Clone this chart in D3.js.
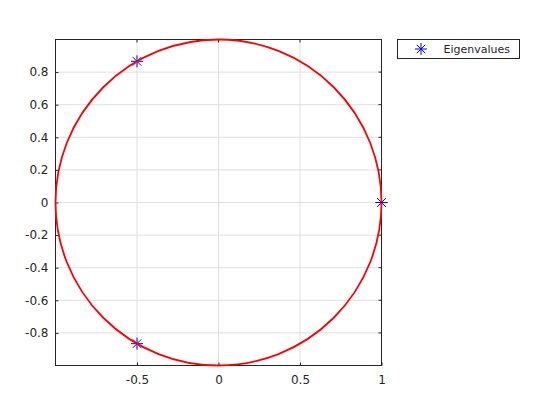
<!DOCTYPE html>
<html>
<head>
<meta charset="utf-8">
<script src="https://cdn.jsdelivr.net/npm/d3@7"></script>
<style>
  body { margin: 0; background: #fff; }
  text { font-family: "DejaVu Sans", sans-serif; fill: #262626; }
</style>
</head>
<body>
<div id="chart"></div>
<script>
// eigenvalues (real, imaginary); 1 appears twice
let eigRe = [1, 1, -0.5, -0.5];
let eigIm = [0, 0, 0.866, -0.866];
let xTicks = [-0.5, 0, 0.5, 1];
let yTicks = [-0.8, -0.6, -0.4, -0.2, 0, 0.2, 0.4, 0.6, 0.8];
let legendLabels = ["Eigenvalues"];

let svg = d3.select("#chart")
            .append("svg")
            .attr("width", 560)
            .attr("height", 420);

let plotLeft = 55.5, plotTop = 39.5, size = 326;

let x = d3.scaleLinear().domain([-1, 1]).range([plotLeft, plotLeft + size]);
let y = d3.scaleLinear().domain([-1, 1]).range([plotTop + size, plotTop]);
let fmt = d => String(d);

// grid
svg.selectAll(".gx").data(xTicks).enter().append("line")
    .attr("x1", d => x(d)).attr("x2", d => x(d))
    .attr("y1", plotTop).attr("y2", plotTop + size)
    .style("stroke", "#dfdfdf");
svg.selectAll(".gy").data(yTicks).enter().append("line")
    .attr("y1", d => y(d)).attr("y2", d => y(d))
    .attr("x1", plotLeft).attr("x2", plotLeft + size)
    .style("stroke", "#dfdfdf");

// axes with inward ticks
let xAxis = svg.append("g")
    .attr("transform", "translate(0," + (plotTop + size) + ")")
    .call(d3.axisBottom(x).tickValues(xTicks).tickSize(-3).tickPadding(9.5).tickFormat(fmt));
let yAxis = svg.append("g")
    .attr("transform", "translate(" + plotLeft + ",0)")
    .call(d3.axisLeft(y).tickValues(yTicks).tickSize(-3).tickPadding(7).tickFormat(fmt));
[xAxis, yAxis].forEach(a => {
    a.select(".domain").remove();
    a.selectAll("line").style("stroke", "#262626");
    a.selectAll("text").style("font-family", "DejaVu Sans, sans-serif").style("font-size", "12px").style("fill", "#262626");
});
// top and right ticks
svg.selectAll(".tt").data(xTicks).enter().append("line")
    .attr("x1", d => x(d)).attr("x2", d => x(d))
    .attr("y1", plotTop).attr("y2", plotTop + 3).style("stroke", "#262626");
svg.selectAll(".tr").data(yTicks).enter().append("line")
    .attr("y1", d => y(d)).attr("y2", d => y(d))
    .attr("x1", plotLeft + size).attr("x2", plotLeft + size - 3).style("stroke", "#262626");

svg.append("rect")
    .attr("x", plotLeft).attr("y", plotTop).attr("width", size).attr("height", size)
    .style("fill", "none").style("stroke", "#262626");

function star(g, cx, cy, r) {
    let s = g.append("g").attr("transform", "translate(" + cx + "," + cy + ")")
        .style("stroke", "#0000ff").style("stroke-width", 1);
    let d = r * Math.SQRT1_2;
    s.append("line").attr("x1", -r).attr("x2", r).attr("y1", 0).attr("y2", 0);
    s.append("line").attr("x1", 0).attr("x2", 0).attr("y1", -r).attr("y2", r);
    s.append("line").attr("x1", -d).attr("x2", d).attr("y1", -d).attr("y2", d);
    s.append("line").attr("x1", -d).attr("x2", d).attr("y1", d).attr("y2", -d);
}

let marks = svg.append("g");
eigRe.forEach((re, i) => star(marks, x(re), y(eigIm[i]), 6));

// unit circle
svg.append("circle")
    .attr("cx", x(0)).attr("cy", y(0))
    .attr("r", x(1) - x(0))
    .style("fill", "none").style("stroke", "#ff0000").style("stroke-width", 1.8);

// legend
let lg = svg.append("g");
lg.append("rect").attr("x", 397.5).attr("y", 39.5).attr("width", 122).attr("height", 19)
    .style("fill", "#fff").style("stroke", "#262626");
star(lg, 421, 49, 6);
lg.selectAll(".lt").data(legendLabels).enter().append("text")
    .attr("x", 443.5).attr("y", 52.5).style("font-size", "11px").text(d => d);
</script>
</body>
</html>
